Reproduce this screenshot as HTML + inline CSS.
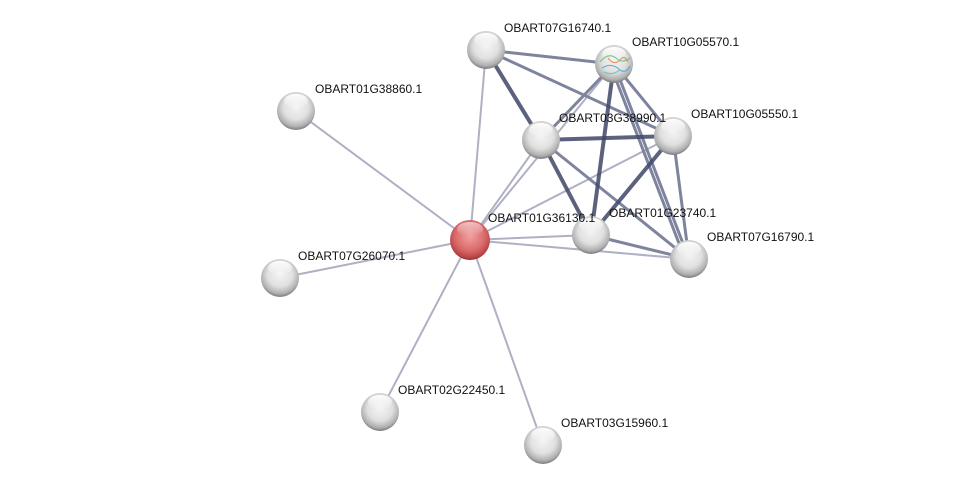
<!DOCTYPE html>
<html><head><meta charset="utf-8"><style>
html,body{margin:0;padding:0;background:#fff;}
svg{display:block;}
text{font-family:"Liberation Sans",Arial,sans-serif;font-size:12px;fill:#111;}
</style></head><body>
<svg width="976" height="490" viewBox="0 0 976 490" xmlns="http://www.w3.org/2000/svg">
<defs>
<radialGradient id="g" cx="0.5" cy="0.4" r="0.6">
<stop offset="0" stop-color="#f4f4f4"/><stop offset="0.55" stop-color="#e0e0e0"/><stop offset="0.85" stop-color="#b0b0b0"/><stop offset="1" stop-color="#7a7a7a"/>
</radialGradient>
<radialGradient id="r" cx="0.5" cy="0.4" r="0.62">
<stop offset="0" stop-color="#f2a0a0"/><stop offset="0.6" stop-color="#da6a6a"/><stop offset="0.88" stop-color="#b84444"/><stop offset="1" stop-color="#752626"/>
</radialGradient>
<linearGradient id="hl" x1="0" y1="0" x2="0" y2="1">
<stop offset="0" stop-color="#fff" stop-opacity="0.95"/><stop offset="1" stop-color="#fff" stop-opacity="0"/>
</linearGradient>
</defs>
<g stroke-linecap="round">
<g stroke="#aeb0c4" stroke-width="2">
<line x1="470" y1="240" x2="296" y2="111"/>
<line x1="470" y1="240" x2="280" y2="278"/>
<line x1="470" y1="240" x2="380" y2="412"/>
<line x1="470" y1="240" x2="543" y2="445"/>
<line x1="470" y1="240" x2="486" y2="50"/>
<line x1="470" y1="240" x2="541" y2="140"/>
<line x1="470" y1="240" x2="614" y2="64"/>
<line x1="470" y1="240" x2="673" y2="136"/>
<line x1="470" y1="240" x2="591" y2="235"/>
<line x1="470" y1="240" x2="689" y2="259"/>
</g>
<g stroke="#7e849e" stroke-width="3">
<line x1="486" y1="50" x2="614" y2="64"/>
<line x1="486" y1="50" x2="673" y2="136"/>
<line x1="614" y1="64" x2="541" y2="140"/>
<line x1="614" y1="64" x2="673" y2="136"/>
<line x1="614" y1="64" x2="689" y2="259"/>
<line x1="610" y1="64" x2="685" y2="259"/>
<line x1="541" y1="140" x2="689" y2="259"/>
<line x1="673" y1="136" x2="689" y2="259"/>
<line x1="591" y1="235" x2="689" y2="259"/>
</g>
<g stroke="#3f4766" stroke-width="4" stroke-opacity="0.85">
<line x1="486" y1="50" x2="541" y2="140"/>
<line x1="541" y1="140" x2="591" y2="235"/>
<line x1="614" y1="64" x2="591" y2="235"/>
<line x1="541" y1="140" x2="673" y2="136"/>
<line x1="673" y1="136" x2="591" y2="235"/>
</g>
</g>
<g id="nodes">
<circle cx="486" cy="50" r="19" fill="url(#g)"/>
<circle cx="614" cy="64" r="19" fill="url(#g)"/>
<circle cx="296" cy="111" r="19" fill="url(#g)"/>
<circle cx="541" cy="140" r="19" fill="url(#g)"/>
<circle cx="673" cy="136" r="19" fill="url(#g)"/>
<circle cx="591" cy="235" r="19" fill="url(#g)"/>
<circle cx="689" cy="259" r="19" fill="url(#g)"/>
<circle cx="280" cy="278" r="19" fill="url(#g)"/>
<circle cx="380" cy="412" r="19" fill="url(#g)"/>
<circle cx="543" cy="445" r="19" fill="url(#g)"/>
<circle cx="470" cy="240" r="20" fill="url(#r)"/>
<g fill="url(#hl)">
<ellipse cx="486" cy="40" rx="12" ry="7"/>
<ellipse cx="614" cy="54" rx="12" ry="7"/>
<ellipse cx="296" cy="101" rx="12" ry="7"/>
<ellipse cx="541" cy="130" rx="12" ry="7"/>
<ellipse cx="673" cy="126" rx="12" ry="7"/>
<ellipse cx="591" cy="225" rx="12" ry="7"/>
<ellipse cx="689" cy="249" rx="12" ry="7"/>
<ellipse cx="280" cy="268" rx="12" ry="7"/>
<ellipse cx="380" cy="402" rx="12" ry="7"/>
<ellipse cx="543" cy="435" rx="12" ry="7"/>
<ellipse cx="470" cy="229" rx="13" ry="7" opacity="0.6"/>
</g>
<g opacity="0.75" stroke-width="1.2" fill="none">
<path d="M600 62 q8 -10 16 -4 q6 6 14 0" stroke="#4cc46a"/>
<path d="M602 68 q10 -6 18 2 q6 4 10 -4" stroke="#3a9bd8"/>
<path d="M608 58 q6 8 12 2 q4 -6 8 2" stroke="#e07a3a"/>
<path d="M604 72 q8 4 16 -2" stroke="#48c8b0"/>
</g>
</g>
<g>
<text x="504" y="32">OBART07G16740.1</text>
<text x="632" y="46">OBART10G05570.1</text>
<text x="315" y="93">OBART01G38860.1</text>
<text x="559" y="122">OBART03G38990.1</text>
<text x="691" y="118">OBART10G05550.1</text>
<text x="488" y="222">OBART01G36130.1</text>
<text x="609" y="217">OBART01G23740.1</text>
<text x="707" y="241">OBART07G16790.1</text>
<text x="298" y="260">OBART07G26070.1</text>
<text x="398" y="394">OBART02G22450.1</text>
<text x="561" y="427">OBART03G15960.1</text>
</g>
</svg>
</body></html>
